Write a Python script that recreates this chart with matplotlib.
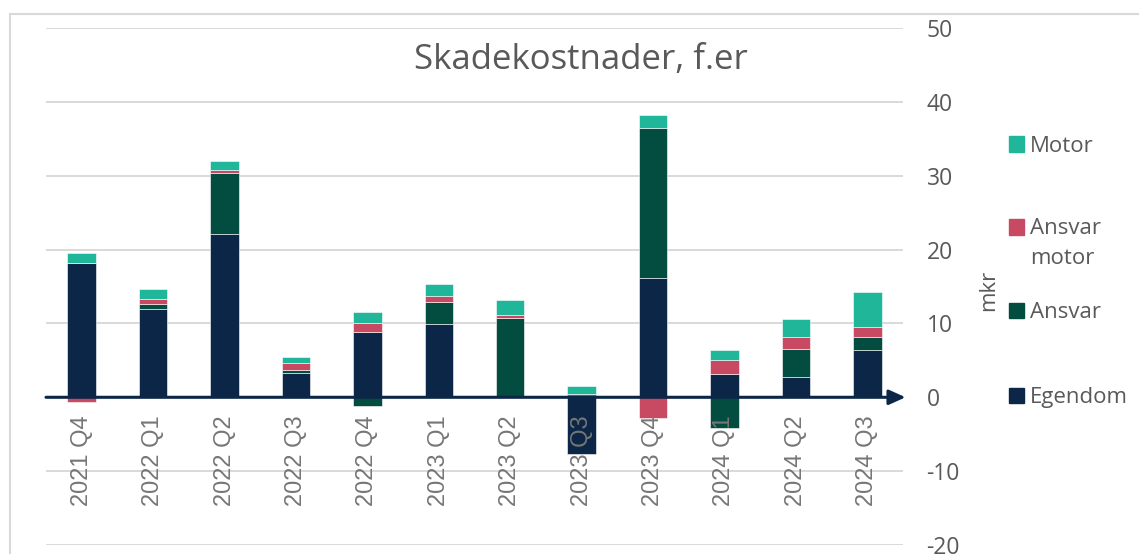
import numpy as np
import matplotlib
matplotlib.use("Agg")
import matplotlib.pyplot as plt
from matplotlib.lines import Line2D
from matplotlib.patches import Rectangle

# data (mkr)
quarters = ['2021 Q4', '2022 Q1', '2022 Q2', '2022 Q3', '2022 Q4', '2023 Q1',
            '2023 Q2', '2023 Q3', '2023 Q4', '2024 Q1', '2024 Q2', '2024 Q3']
egendom = [18.2, 12.0, 22.1, 3.3, 8.8, 9.9, 0.0, -7.7, 16.2, 3.2, 2.7, 6.4]
ansvar = [0.0, 0.6, 8.3, 0.4, -1.2, 3.0, 10.7, 0.0, 20.3, -4.1, 3.9, 1.7]
ansvar_motor = [-0.6, 0.7, 0.4, 0.9, 1.3, 0.8, 0.45, 0.45, -2.8, 1.9, 1.5, 1.35]
motor = [1.3, 1.3, 1.2, 0.8, 1.4, 1.6, 2.0, 1.05, 1.7, 1.35, 2.5, 4.8]

series = [('Egendom', egendom, '#0B2646'),
          ('Ansvar', ansvar, '#024D40'),
          ('Ansvar\nmotor', ansvar_motor, '#C84A62'),
          ('Motor', motor, '#20B69A')]

yticks = [-20, -10, 0, 10, 20, 30, 40, 50]
grey = '#595959'

fig = plt.figure(figsize=(11.39, 5.54), dpi=100)
W, H = 1139, 554
ax = fig.add_axes([46 / W, 1 - 545 / H, (903 - 46) / W, (545 - 28) / H])

x = np.arange(len(quarters))
pos = np.zeros(len(quarters))
neg = np.zeros(len(quarters))
for name, vals, col in series:
    v = np.array(vals)
    bottom = np.where(v >= 0, pos, neg)
    ax.bar(x, v, 0.4, bottom=bottom, color=col, edgecolor='white',
           linewidth=0.4, zorder=1)
    pos = pos + np.where(v >= 0, v, 0)
    neg = neg + np.where(v < 0, v, 0)

for y in yticks:
    if y != 0:
        ax.axhline(y, color='#D9D9D9', lw=1.4, zorder=0)

ax.set_xlim(-0.5, 11.5)
ax.set_ylim(-20, 50)
for s in ax.spines.values():
    s.set_visible(False)
ax.spines['bottom'].set_position(('data', 0))

# zero axis with arrow
ax.annotate('', xy=(1.003, 0), xytext=(0, 0),
            xycoords=('axes fraction', 'data'), textcoords=('axes fraction', 'data'),
            arrowprops=dict(arrowstyle='-|>,head_length=1.0,head_width=0.45',
                            color='#0B2646', lw=2.2, shrinkA=0, shrinkB=0),
            annotation_clip=False, zorder=3)

ax.set_xticks(x)
ax.set_xticklabels(quarters, rotation=90, fontsize=17, color='#767676',
                   family='Liberation Sans')
ax.tick_params(axis='x', length=0, pad=13)
ax.yaxis.tick_right()
ax.set_yticks(yticks)
ax.set_yticklabels([str(t) for t in yticks], fontsize=16.5, color=grey,
                   family='Open Sans')
ax.tick_params(axis='y', length=0, pad=17)

fig.text(581 / W, 1 - 60 / H, 'Skadekostnader, f.er', fontsize=25,
         color=grey, ha='center', va='center', family='Open Sans')
fig.text(989 / W, 1 - 290 / H, 'mkr', fontsize=16, color=grey, rotation=90,
         ha='center', va='center', family='Open Sans')

# legend
leg_y = [144, 227, 310, 395]
for (name, vals, col), ly in zip(series[::-1], leg_y):
    fig.patches.append(Rectangle((1009 / W, 1 - (ly + 7.5) / H), 15 / W, 15 / H,
                                 transform=fig.transFigure, color=col))
    extra = 30 * name.count('\n')
    fig.text(1030 / W, 1 - (ly + 7.5 + extra) / H, name, fontsize=16, color=grey,
             ha='left', va='baseline', family='Open Sans', linespacing=1.6)

# chart border
fig.lines.append(Line2D([10 / W, 10 / W], [0, 1 - 14 / H], color='#D9D9D9',
                        lw=1.5, transform=fig.transFigure))
fig.lines.append(Line2D([10 / W, 1], [1 - 14 / H, 1 - 14 / H], color='#D9D9D9',
                        lw=1.5, transform=fig.transFigure))

fig.savefig('out.png', dpi=100)
